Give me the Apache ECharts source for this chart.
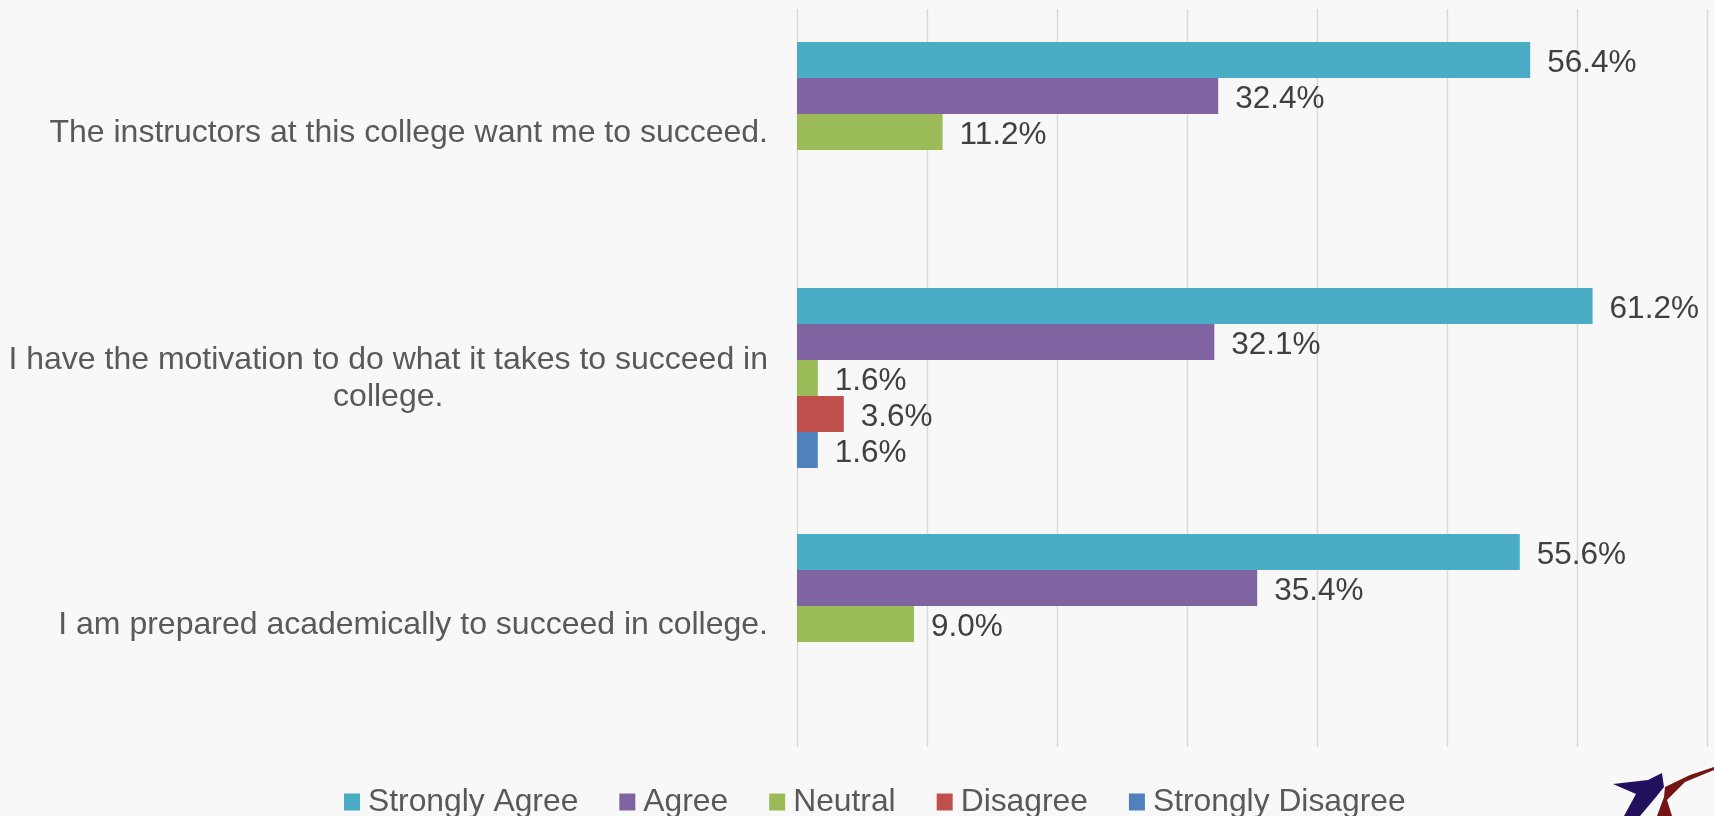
<!DOCTYPE html>
<html>
<head>
<meta charset="utf-8">
<title>Student Attitudes</title>
<script src="https://cdn.jsdelivr.net/npm/echarts@6/dist/echarts.min.js"></script>
<style>
  html, body { margin: 0; padding: 0; background: #f8f8f8; }
  #chart { width: 1714px; height: 816px; }
</style>
</head>
<body>
<div id="chart"></div>
<script>
// Survey statements (top to bottom)
const statements = [
  'The instructors at this college want me to succeed.',
  'I have the motivation to do what it takes to succeed in\ncollege.',
  'I am prepared academically to succeed in college.'
];

// Response shares in percent, one array per answer option
const responseNames = ['Strongly Agree', 'Agree', 'Neutral', 'Disagree', 'Strongly Disagree'];
const stronglyAgree = [56.4, 61.2, 55.6];
const agree = [32.4, 32.1, 35.4];
const neutral = [11.2, 1.6, 9.0];
const disagree = [null, 3.6, null];
const stronglyDisagree = [null, 1.6, null];

const responseColors = ['#4bacc6', '#8064a2', '#9bbb59', '#c0504d', '#4f81bd'];
const responseValues = [stronglyAgree, agree, neutral, disagree, stronglyDisagree];

const FONT = '"Liberation Sans", Arial, sans-serif';
const FS = 31.5;

const chart = echarts.init(document.getElementById('chart'), null, { renderer: 'canvas' });

const series = responseNames.map((name, i) => ({
  name: name,
  type: 'bar',
  data: responseValues[i],
  barGap: '0%',
  barCategoryGap: '26.8%',
  itemStyle: { color: responseColors[i] },
  label: {
    show: true,
    position: 'right',
    distance: 17,
    offset: [0, 3],
    color: '#404040',
    fontFamily: FONT,
    fontSize: FS,
    formatter: p => (p.value == null ? '' : p.value.toFixed(1) + '%')
  },
  emphasis: { disabled: true },
  animation: false
}));

chart.setOption({
  backgroundColor: '#f8f8f8',
  animation: false,
  grid: { left: 797, right: 7, top: 9, bottom: 69, containLabel: false },
  legend: {
    data: responseNames,
    left: 339,
    top: 781,
    itemWidth: 16,
    itemHeight: 17,
    itemGap: 41,
    icon: 'rect',
    textStyle: { color: '#595959', fontFamily: FONT, fontSize: 31.8, padding: [0, 0, 0, 3] }
  },
  xAxis: {
    type: 'value',
    min: 0,
    max: 70,
    interval: 10,
    axisLabel: { show: false },
    axisLine: { show: false },
    axisTick: { show: false },
    splitLine: { show: true, lineStyle: { color: '#d9d9d9', width: 1.4 } }
  },
  yAxis: {
    type: 'category',
    inverse: true,
    data: statements,
    axisLine: { show: false },
    axisTick: { show: false },
    axisLabel: {
      margin: 29,
      formatter: v => v.split('\n').map(line => '{c|' + line + '}').join('\n'),
      rich: {
        c: {
          align: 'center',
          color: '#595959',
          fontFamily: FONT,
          fontSize: 32,
          lineHeight: 37,
          padding: [2, 0, 0, 0]
        }
      }
    }
  },
  series: series,
  graphic: [
    {
      type: 'polygon',
      silent: true,
      shape: { points: [[1613, 784], [1648, 780], [1662, 773], [1664, 787], [1656, 797], [1640, 816], [1624, 816], [1636, 794]] },
      style: { fill: '#23105c' }
    },
    {
      type: 'polygon',
      silent: true,
      shape: { points: [[1714, 767], [1690, 775], [1665, 787], [1664, 797], [1657, 816], [1672, 816], [1667, 800], [1685, 782], [1714, 770]] },
      style: { fill: '#731512' }
    }
  ]
});
</script>
</body>
</html>
